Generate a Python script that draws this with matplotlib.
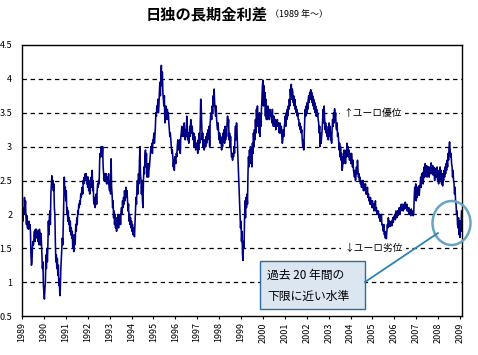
import matplotlib.pyplot as plt
import numpy as np
from matplotlib.patches import Ellipse, FancyBboxPatch
from matplotlib.lines import Line2D

plt.rcParams['font.family'] = ['Noto Sans CJK JP', 'DejaVu Sans']

# spread (German minus Japanese 10y yield, %), 44 points per year from Jan 1989
spread = [
    # 1989
    1.95, 2.08, 1.9, 2.1, 2.0, 2.25, 2.05, 2.2, 1.95, 1.85, 1.98, 1.8,
    1.85, 1.78, 1.9, 1.8, 1.85, 1.75, 1.4, 1.25, 1.3, 1.5, 1.6, 1.55,
    1.64, 1.75, 1.6, 1.78, 1.7, 1.78, 1.65, 1.75, 1.6, 1.75, 1.55, 1.78,
    1.7, 1.55, 1.72, 1.6, 1.4, 1.2, 1.3, 0.95,
    # 1990
    0.85, 0.75, 0.9, 1.0, 1.4, 1.2, 1.5, 1.3, 1.55, 1.9, 1.7, 1.95,
    2.05, 1.85, 2.3, 2.45, 2.57, 2.4, 2.5, 2.35, 2.45, 2.1, 2.0, 1.6,
    1.3, 1.4, 1.2, 1.35, 1.1, 1.25, 0.95, 1.05, 0.8, 0.9, 1.2, 1.35,
    1.5, 1.65, 1.55, 1.9, 2.2, 2.55, 2.3, 2.4,
    # 1991
    2.2, 2.35, 2.0, 2.1, 1.9, 2.05, 1.85, 1.95, 1.75, 1.9, 1.7, 1.8,
    1.65, 1.75, 1.5, 1.6, 1.45, 1.7, 1.55, 1.6, 1.85, 1.75, 1.95, 1.85,
    2.05, 2.0, 2.15, 2.1, 2.2, 2.15, 2.3, 2.25, 2.35, 2.4, 2.3, 2.5,
    2.45, 2.55, 2.5, 2.6, 2.5, 2.6, 2.45, 2.55,
    # 1992
    2.4, 2.55, 2.35, 2.5, 2.3, 2.45, 2.4, 2.55, 2.4, 2.65, 2.35, 2.5,
    2.2, 2.15, 2.25, 2.1, 2.2, 2.3, 2.15, 2.35, 2.45, 2.4, 2.5, 2.45,
    2.8, 2.9, 2.85, 3.0, 2.95, 2.85, 3.0, 2.7, 2.6, 2.5, 2.55, 2.6,
    2.5, 2.6, 2.45, 2.55, 2.5, 2.45, 2.6, 2.4,
    # 1993
    2.35, 2.5, 2.3, 2.82, 2.4, 2.3, 2.1, 2.2, 1.95, 2.05, 1.85, 2.0,
    1.8, 1.95, 1.75, 1.9, 1.85, 2.0, 1.8, 1.95, 1.9, 2.0, 1.85, 2.05,
    2.1, 2.0, 2.2, 2.1, 2.25, 2.15, 2.35, 2.2, 2.3, 2.4, 2.25, 2.35,
    2.2, 2.05, 2.15, 1.9, 2.0, 1.85, 1.95, 1.8,
    # 1994
    1.9, 1.75, 1.85, 1.7, 1.8, 1.7, 1.67, 1.85, 2.0, 2.25, 2.15, 2.4,
    2.5, 2.3, 2.6, 2.45, 2.8, 3.0, 2.6, 2.5, 2.3, 2.5, 2.2, 2.1,
    2.5, 2.7, 2.6, 2.85, 2.95, 2.7, 2.9, 2.55, 2.6, 2.75, 2.55, 2.65,
    2.7, 2.8, 2.9, 3.0,
    2.95, 3.05, 2.9, 3.1,
    # 1995
    3.1, 3.2, 3.05, 3.15, 3.3, 3.5, 3.45, 3.6, 3.55, 3.7, 3.5, 3.6,
    3.8, 3.95, 3.75, 4.05, 4.2, 3.9, 4.1, 3.8, 3.7, 3.6, 3.75, 3.35,
    3.45, 3.6, 3.5, 3.4, 3.55, 3.45, 3.5, 3.35, 3.25, 3.15, 3.2, 3.1,
    3.0, 2.9, 2.95, 2.85, 2.7, 2.8, 2.65, 2.85,
    # 1996
    2.8, 2.75, 2.9, 2.85, 3.0, 3.1, 2.95, 3.05, 3.0, 3.1, 2.9, 3.15,
    3.2, 3.3, 3.15, 3.25, 3.25, 3.15, 3.35, 3.2, 3.1, 3.25, 3.15, 3.45,
    3.2, 3.1, 3.2, 3.05, 3.2, 3.3, 3.15, 3.4, 3.35, 3.2, 3.3, 3.15,
    3.1, 3.2, 3.0, 3.15, 3.1, 2.95, 3.05, 3.0,
    # 1997
    3.05, 2.9, 3.1, 2.95, 3.2, 3.05, 3.3, 3.7, 3.6, 3.35, 3.1, 3.2,
    3.0, 3.1, 2.95, 3.05, 3.1, 3.0, 3.15, 3.05, 3.2, 3.1, 3.25, 3.15,
    3.3, 3.0, 3.35, 3.45, 3.5, 3.4, 3.6, 3.5, 3.75, 3.6, 3.85, 3.65,
    3.55, 3.45, 3.6, 3.4, 3.3, 3.25, 3.35, 3.2,
    # 1998
    3.1, 3.2, 3.05, 3.15, 3.1, 2.95, 3.05, 3.0, 3.2, 3.1, 3.25, 3.05,
    3.3, 3.1, 3.25, 3.15, 3.35, 3.45, 3.3, 3.4, 3.1, 3.2, 3.0, 3.15,
    2.95, 2.85, 2.9, 2.8, 2.9, 2.85, 3.0, 2.9, 3.2, 3.3, 3.1, 3.35,
    3.2, 3.0, 2.8, 2.6, 2.4, 2.2, 2.0, 1.8,
    # 1999
    1.9, 1.6, 1.75, 1.4, 1.32, 1.6, 1.5, 1.9, 2.2, 1.95, 2.25, 2.1,
    2.3, 2.15, 2.6, 2.85, 2.7, 2.95, 2.75, 3.0, 2.8, 2.95, 2.7, 3.05,
    2.9, 3.2, 3.0, 3.25, 3.1, 3.4, 3.2, 3.55, 3.35, 3.6, 3.3, 3.45,
    3.2, 3.5, 3.15, 3.4, 3.3, 3.55, 3.7, 3.9,
    # 2000
    3.98, 3.6, 3.9, 3.65, 3.8, 3.45, 3.7, 3.4, 3.55, 3.4, 3.6, 3.45,
    3.5, 3.4, 3.55, 3.45, 3.45, 3.5, 3.35, 3.55, 3.4, 3.3, 3.45, 3.35,
    3.3, 3.4, 3.25, 3.35, 3.3, 3.4, 3.3, 3.35, 3.3, 3.2, 3.35, 3.25,
    3.2, 3.3, 3.15, 3.05, 3.1, 3.25, 3.15, 3.3,
    # 2001
    3.35, 3.45, 3.3, 3.5, 3.4, 3.55, 3.45, 3.6, 3.55, 3.7, 3.6, 3.85,
    3.75, 3.92, 3.7, 3.85, 3.8, 3.65, 3.75, 3.6, 3.7, 3.55, 3.6, 3.5,
    3.55, 3.45, 3.5, 3.4, 3.4, 3.3, 3.35, 3.25, 3.3, 3.2, 3.25, 3.1,
    3.0, 3.1, 2.95, 3.15, 3.4, 3.55, 3.45, 3.6,
    # 2002
    3.5, 3.65, 3.55, 3.7, 3.75, 3.65, 3.8, 3.7, 3.84, 3.7, 3.8, 3.65,
    3.75, 3.6, 3.7, 3.55, 3.65, 3.5, 3.6, 3.45, 3.55, 3.45, 3.5, 3.4,
    3.35, 3.2, 3.3, 3.0, 3.2, 3.05, 3.15, 3.25, 3.4, 3.55, 3.35, 3.6,
    3.4, 3.25, 3.35, 3.2, 3.3, 3.15, 3.25, 3.1,
    # 2003
    3.2, 3.35, 3.15, 3.3, 3.1, 3.2, 3.05, 3.25, 3.4, 3.3, 3.5, 3.35,
    3.56, 3.4, 3.5, 3.3, 3.25, 3.35, 3.15, 3.2, 3.1, 2.95, 3.05, 2.85,
    3.0, 2.8, 2.9, 2.65, 2.7, 2.85, 2.75, 2.95, 2.8, 2.9, 2.75, 2.95,
    2.85, 3.05, 2.9, 3.0, 2.85, 2.95, 2.8, 2.9,
    # 2004
    2.85, 2.75, 2.9, 2.8, 2.7, 2.8, 2.65, 2.6, 2.55, 2.65, 2.5, 2.6,
    2.7, 2.6, 2.8, 2.65, 2.55, 2.6, 2.5, 2.55, 2.45, 2.5, 2.4, 2.45,
    2.4, 2.5, 2.35, 2.45, 2.4, 2.35, 2.45, 2.3, 2.35, 2.3, 2.4, 2.25,
    2.3, 2.2, 2.25, 2.15, 2.25, 2.15, 2.2, 2.1,
    # 2005
    2.2, 2.1, 2.15, 2.05, 2.15, 2.1, 2.2, 2.05, 2.1, 2.0, 2.05, 2.0,
    2.05, 1.95, 2.0, 1.9, 1.95, 1.9, 2.0, 1.85, 1.85, 1.8, 1.75, 1.85,
    1.7, 1.75, 1.65, 1.72, 1.64, 1.75, 1.85, 1.8, 1.95, 1.85, 1.9, 1.82,
    1.88, 1.85, 1.9, 1.83, 1.9, 1.95, 1.88, 1.97,
    # 2006
    1.95, 2.0, 1.92, 2.05, 2.0, 1.95, 2.05, 1.98, 2.05, 2.0, 2.1, 2.0,
    2.1, 2.05, 2.15, 2.08, 2.1, 2.15, 2.05, 2.12, 2.15, 2.08, 2.18, 2.1,
    2.1, 2.15, 2.05, 2.1, 2.05, 2.1, 2.0, 2.05, 2.05, 1.98, 2.08, 2.02,
    2.0, 2.05, 1.98, 2.02, 2.25, 2.4, 2.3, 2.45,
    # 2007
    2.2, 2.35, 2.25, 2.4, 2.3, 2.42, 2.28, 2.38, 2.45, 2.55, 2.4, 2.6,
    2.5, 2.62, 2.45, 2.58, 2.7, 2.55, 2.75, 2.6, 2.65, 2.72, 2.55, 2.7,
    2.6, 2.7, 2.55, 2.68, 2.7, 2.6, 2.76, 2.65, 2.6, 2.72, 2.58, 2.7,
    2.62, 2.5, 2.68, 2.55, 2.65, 2.55, 2.7, 2.5,
    # 2008
    2.6, 2.45, 2.65, 2.5, 2.7, 2.55, 2.65, 2.45, 2.6, 2.42, 2.55, 2.5,
    2.65, 2.55, 2.7, 2.6, 2.75, 2.65, 2.8, 2.7, 2.9, 2.8, 3.0, 3.07,
    2.95, 2.85, 2.9, 2.75, 2.7, 2.55, 2.65, 2.5, 2.45, 2.3, 2.4, 2.2,
    2.15, 2.0, 2.05, 1.85, 1.8, 1.95, 1.7, 1.9,
    # 2009
    1.66, 1.9, 1.75, 2.05,
]
years = list(range(1989, 2010))
yticks = [0.5, 1, 1.5, 2, 2.5, 3, 3.5, 4, 4.5]

x = 1989 + np.arange(len(spread)) / 44.0

fig = plt.figure(figsize=(4.78, 3.55), dpi=100)
ax = fig.add_axes([22 / 478, 39 / 355, 440 / 478, 271 / 355])

ax.plot(x, spread, color='#000080', linewidth=1.15)

ax.set_xlim(1989, 2009.09)
ax.set_ylim(0.5, 4.5)
ax.set_xticks(years)
ax.set_xticklabels([str(y) for y in years], rotation=90, fontsize=6.5)
ax.set_yticks(yticks)
ax.set_yticklabels(['%g' % v for v in yticks], fontsize=6.5)
ax.tick_params(axis='x', direction='out', length=2.5, width=0.8, pad=2)
ax.tick_params(axis='y', length=0, pad=7)
for y in yticks[1:-1]:
    ax.axhline(y, color='black', linewidth=0.9, linestyle=(0, (3.5, 3)), zorder=0)
for s in ax.spines.values():
    s.set_linewidth(1.0)
    s.set_color('black')

# labels on the grid lines
ax.text(2005.0, 3.5, '↑ユーロ優位', fontsize=7, ha='center', va='center',
        bbox=dict(facecolor='white', edgecolor='none', pad=2.5))
ax.text(2005.05, 1.5, '↓ユーロ劣位', fontsize=7, ha='center', va='center',
        bbox=dict(facecolor='white', edgecolor='none', pad=2.5))

# title
fig.text(268 / 478, 1 - 14 / 355, '日独の長期金利差', fontsize=11, fontweight='bold',
         ha='right', va='center')
fig.text(270 / 478, 1 - 15 / 355, '（1989 年～）', fontsize=6.5, ha='left', va='center')

# callout
box = FancyBboxPatch((260 / 478, 1 - 309 / 355), 105 / 478, 48 / 355,
                     boxstyle='square,pad=0', transform=fig.transFigure,
                     facecolor='#dbe6f1', edgecolor='#2d6e9e', linewidth=1.0)
fig.add_artist(box)
fig.text(267 / 478, 1 - 275 / 355, '過去 20 年間の', fontsize=8.5, ha='left', va='center')
fig.text(267 / 478, 1 - 296 / 355, '下限に近い水準', fontsize=8.5, ha='left', va='center')
fig.add_artist(Line2D([365 / 478, 438 / 478], [1 - 282 / 355, 1 - 233 / 355],
                      transform=fig.transFigure, color='#2c84b4', linewidth=1.3))
fig.add_artist(Ellipse((451.5 / 478, 1 - 223 / 355), 38 / 478, 44 / 355,
                       transform=fig.transFigure, facecolor='none',
                       edgecolor='#6aa4c4', linewidth=1.8))

fig.savefig('out.png', dpi=100)
